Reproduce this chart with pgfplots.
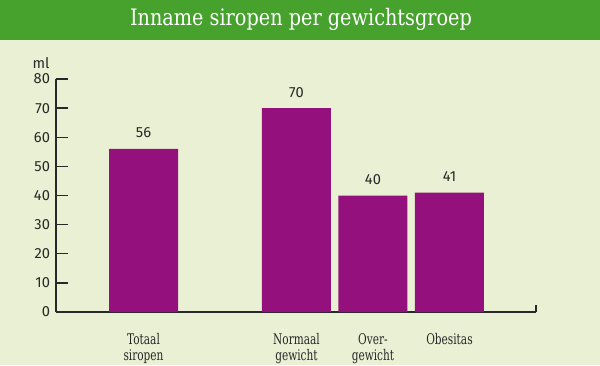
\documentclass[border=0pt]{standalone}
\usepackage{fontspec}
\setmainfont{DejaVu Serif}[FakeStretch=0.72]
\newfontfamily\titlefont{DejaVu Serif}[FakeStretch=0.85]
\newfontfamily\numfont{Fira Sans}
\usepackage{pgfplots}
\pgfplotsset{compat=1.18}
\definecolor{hdr}{RGB}{70,161,45}
\definecolor{bg}{RGB}{234,240,211}
\definecolor{barc}{RGB}{148,17,125}
\definecolor{axc}{RGB}{40,40,40}
\begin{document}
\begin{tikzpicture}[x=0.75pt,y=0.75pt]
\fill[bg] (0,0) rectangle (600,365);
\fill[hdr] (0,325) rectangle (600,365);
\node[text=white,font=\titlefont\fontsize{17}{20}\selectfont, anchor=base, inner sep=0pt] at (301,339) {Inname siropen per gewichtsgroep};
\node[text=axc,font=\numfont\fontsize{11}{12}\selectfont] at (41,302) {ml};
\begin{axis}[
  at={(42pt,39.75pt)}, anchor=south west,
  scale only axis, width=360pt, height=174.75pt,
  xmin=-3.144, xmax=3.131, ymin=0, ymax=80,
  enlargelimits=false,
  axis x line*=bottom, axis y line*=left,
  axis line style={axc, line width=1.1pt},
  ytick={0,10,...,80},
  xtick={-2,0,1,2},
  xticklabels={{Totaal\\siropen},{Normaal\\gewicht},{Over-\\gewicht},{Obesitas}},
  x tick label style={align=center, anchor=north, inner sep=0pt, yshift=-7pt, font=\fontsize{11}{12}\selectfont, text=axc},
  xtick style={draw=none},
  ytick style={axc, line width=1.1pt},
  tick align=inside, major tick length=9pt,
  /pgf/number format/assume math mode=true,
  y tick label style={font=\numfont\fontsize{11}{12}\selectfont, text=axc, xshift=-1pt},
  ybar, bar width=0.902,
  nodes near coords,
  every node near coord/.append style={font=\numfont\fontsize{11}{12}\selectfont, text=axc, anchor=center, inner sep=0pt, yshift=12pt},
  clip=false,
]
\addplot[fill=barc, draw=none] coordinates {(-2,56) (0,70) (1,40) (2,41)};
\draw[axc, line width=1.1pt] (rel axis cs:1,0) -- ++(0pt,5.5pt);
\end{axis}
\end{tikzpicture}
\end{document}
